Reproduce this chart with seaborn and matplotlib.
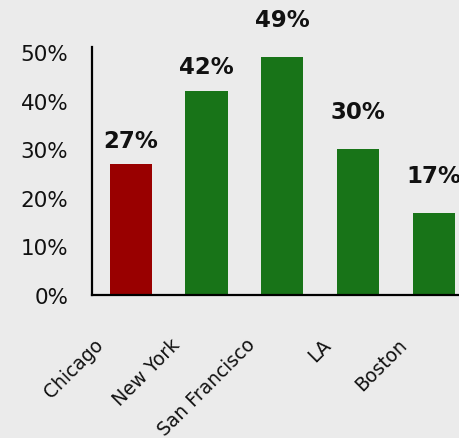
import matplotlib
matplotlib.use("Agg")
import matplotlib.pyplot as plt
from matplotlib.transforms import ScaledTranslation
import seaborn as sns
import pandas as pd

# Share of respondents by city (percent)
cities = ["Chicago", "New York", "San Francisco", "LA", "Boston"]
shares = [27, 42, 49, 30, 17]
yticks = [0, 10, 20, 30, 40, 50]

# Chicago highlighted, the rest in green
bar_colors = ["#990000", "#187418", "#187418", "#187418", "#187418"]
# vertical gap between each bar top and its value label (points)
label_gap = [17, 18, 27, 27, 27]

bg = "#ebebeb"
sns.set_theme(style="white")
plt.rcParams["font.family"] = ["DejaVu Sans"]

fig = plt.figure(figsize=(4.6, 4.39), dpi=100, facecolor=bg)
ax = fig.add_axes([0.2, 0.3257, 0.826, 0.565])
ax.set_facecolor(bg)

df = pd.DataFrame({"city": cities, "share": shares})
sns.barplot(data=df, x="city", y="share", hue="city", palette=bar_colors,
            legend=False, width=0.555, saturation=1, linewidth=0, ax=ax)

ax.set_xlim(-0.51, 4.5)
ax.set_ylim(0, 51.1)
ax.set_yticks(yticks)
ax.set_yticklabels([f"{t}%" for t in yticks], fontsize=15.5, color="#111111")
ax.tick_params(axis="y", length=0, pad=17)
ax.tick_params(axis="x", length=0)
ax.set_xlabel("")
ax.set_ylabel("")

for spine in ["top", "right"]:
    ax.spines[spine].set_visible(False)
for spine in ["left", "bottom"]:
    ax.spines[spine].set_color("black")
    ax.spines[spine].set_linewidth(1.6)

# rotated city names, shifted down-left of each bar
shift = ScaledTranslation(-0.30, -0.41, fig.dpi_scale_trans)
for lab in ax.get_xticklabels():
    lab.set_rotation(45)
    lab.set_ha("right")
    lab.set_va("center")
    lab.set_rotation_mode("anchor")
    lab.set_fontsize(13.5)
    lab.set_color("#111111")
    lab.set_transform(lab.get_transform() + shift)

# value labels above bars
for i, (v, gap) in enumerate(zip(shares, label_gap)):
    ax.annotate(f"{v}%", xy=(i, v), xytext=(0, gap), textcoords="offset points",
                ha="center", va="center", fontsize=16.5, fontweight="bold",
                color="#111111", annotation_clip=False)

fig.savefig("out.png", dpi=100, facecolor=bg)
